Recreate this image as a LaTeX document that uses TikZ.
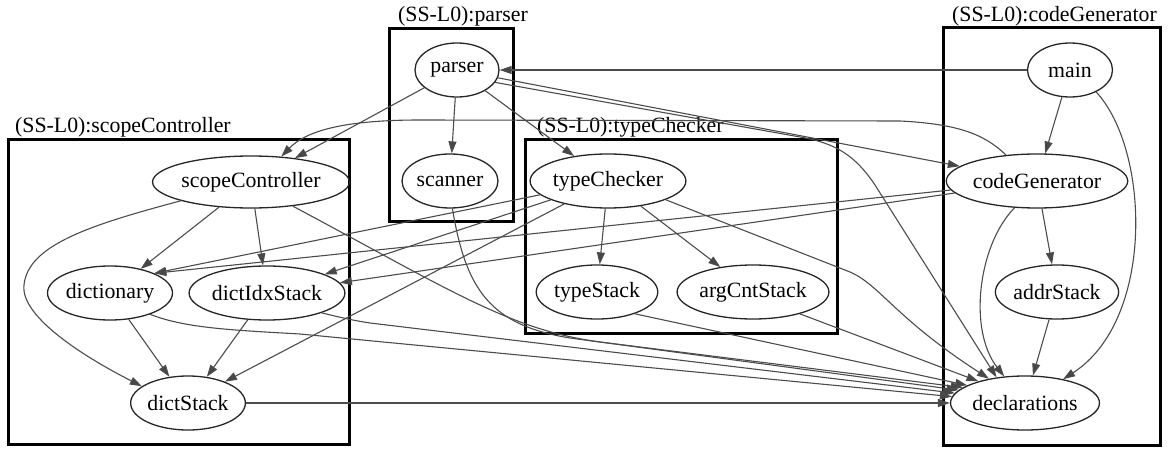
\documentclass[tikz,border=0pt]{standalone}
\usepackage{fontspec}
\setmainfont{Liberation Serif}
\usetikzlibrary{arrows.meta,shapes.geometric}
\begin{document}
\begin{tikzpicture}[x=1pt,y=-1pt,
  font=\rmfamily\fontsize{21.8}{26}\selectfont,
  mod/.style={ellipse,draw=black!85,line width=1.3pt,inner sep=0pt,minimum height=54pt},
  cluster/.style={rectangle,draw=black,line width=3pt,inner sep=0pt},
  clabel/.style={inner sep=0pt},
  edge/.style={draw=black!70,line width=1.1pt,
    -{Triangle[length=12pt,width=8pt,fill=black!72]}}]
\useasboundingbox (0,0) rectangle (1170,449);

% subsystem frames
\node[cluster,minimum width=341pt,minimum height=304pt] (cScope)  at (178.5,292) {};
\node[cluster,minimum width=124pt,minimum height=193pt] (cParser) at (451,125.5) {};
\node[cluster,minimum width=312pt,minimum height=193pt] (cType)   at (681,236.5) {};
\node[cluster,minimum width=217pt,minimum height=417pt] (cCode)   at (1051.5,236.5) {};

\node[clabel,anchor=base west] (lScope)  at (15,133)   {(SS-L0):scopeController};
\node[clabel,anchor=base]      (lParser) at (463,22)   {(SS-L0):parser};
\node[clabel,anchor=base west] (lType)   at (537,133)  {(SS-L0):typeChecker};
\node[clabel,anchor=base east] (lCode)   at (1157,22)  {(SS-L0):codeGenerator};

% modules
\node[mod,minimum width=84pt]  (parser)          at (457,70)   {parser};
\node[mod,minimum width=96pt]  (scanner)         at (450,181)  {scanner};
\node[mod,minimum width=85pt]  (main)            at (1070,70)  {main};
\node[mod,minimum width=158pt] (codeGenerator)   at (1037,181) {codeGenerator};
\node[mod,minimum width=118pt] (addrStack)       at (1057,292) {addrStack};
\node[mod,minimum width=136pt] (declarations)    at (1025,403) {declarations};
\node[mod,minimum width=172pt,minimum height=52pt] (scopeController) at (251,182) {scopeController};
\node[mod,minimum width=120pt] (dictionary)      at (110,293)  {dictionary};
\node[mod,minimum width=140pt] (dictIdxStack)    at (267,293)  {dictIdxStack};
\node[mod,minimum width=114pt] (dictStack)       at (188,403)  {dictStack};
\node[mod,minimum width=140pt] (typeChecker)     at (608,181)  {typeChecker};
\node[mod,minimum width=118pt] (typeStack)       at (597,292)  {typeStack};
\node[mod,minimum width=140pt] (argCntStack)     at (753,292)  {argCntStack};

% dependencies
\draw[edge] (main.west) -- (parser.east);
\draw[edge] (main) -- (codeGenerator);
\draw[edge] (main.-40) .. controls (1150,150) and (1155,320) .. (declarations.32);

\draw[edge] (parser) -- (scanner);
\draw[edge] (parser) -- (scopeController);
\draw[edge] (parser) -- (typeChecker);
\draw[edge] (parser) -- (codeGenerator);
\draw[edge] (parser.-18) -- (800,137) .. controls (835,143) and (855,155) .. (875,185) -- (declarations.138);

\draw[edge] (scanner.-85) .. controls (466,290) and (490,325) .. (570,338) -- (declarations.169);

\draw[edge] (codeGenerator.140) .. controls (985,135) and (960,124) .. (900,121)
  -- (420,120) .. controls (340,120) and (305,132) .. (scopeController.40);
\draw[edge] (codeGenerator) -- (dictionary.24);
\draw[edge] (codeGenerator) -- (dictIdxStack.8);
\draw[edge] (codeGenerator) -- (addrStack);
\draw[edge] (codeGenerator.-130) .. controls (978,245) and (968,330) .. (declarations.128);
\draw[edge] (addrStack) -- (declarations);

\draw[edge] (scopeController) -- (dictionary);
\draw[edge] (scopeController) -- (dictIdxStack);
\draw[edge] (scopeController.195) .. controls (90,225) and (28,245) .. (24,285)
  .. controls (20,318) and (90,360) .. (dictStack.160);
\draw[edge] (scopeController.-30) .. controls (450,290) and (510,330) .. (600,342) -- (declarations.166);

\draw[edge] (dictionary) -- (dictStack);
\draw[edge] (dictionary.-28) .. controls (185,328) and (230,330) .. (300,334) -- (declarations.175);
\draw[edge] (dictIdxStack) -- (dictStack);
\draw[edge] (dictIdxStack.-20) .. controls (335,316) and (350,320) .. (370,323) -- (declarations.172);
\draw[edge] (dictStack) -- (declarations);

\draw[edge] (typeChecker) -- (dictionary.24);
\draw[edge] (typeChecker) -- (dictIdxStack.18);
\draw[edge] (typeChecker) -- (dictStack.30);
\draw[edge] (typeChecker) -- (typeStack);
\draw[edge] (typeChecker) -- (argCntStack);
\draw[edge] (typeChecker.-18) -- (850,272) .. controls (880,285) and (895,318) .. (declarations.146);
\draw[edge] (typeStack.-30) -- (declarations.163);
\draw[edge] (argCntStack.-25) -- (declarations.155);
\end{tikzpicture}
\end{document}
